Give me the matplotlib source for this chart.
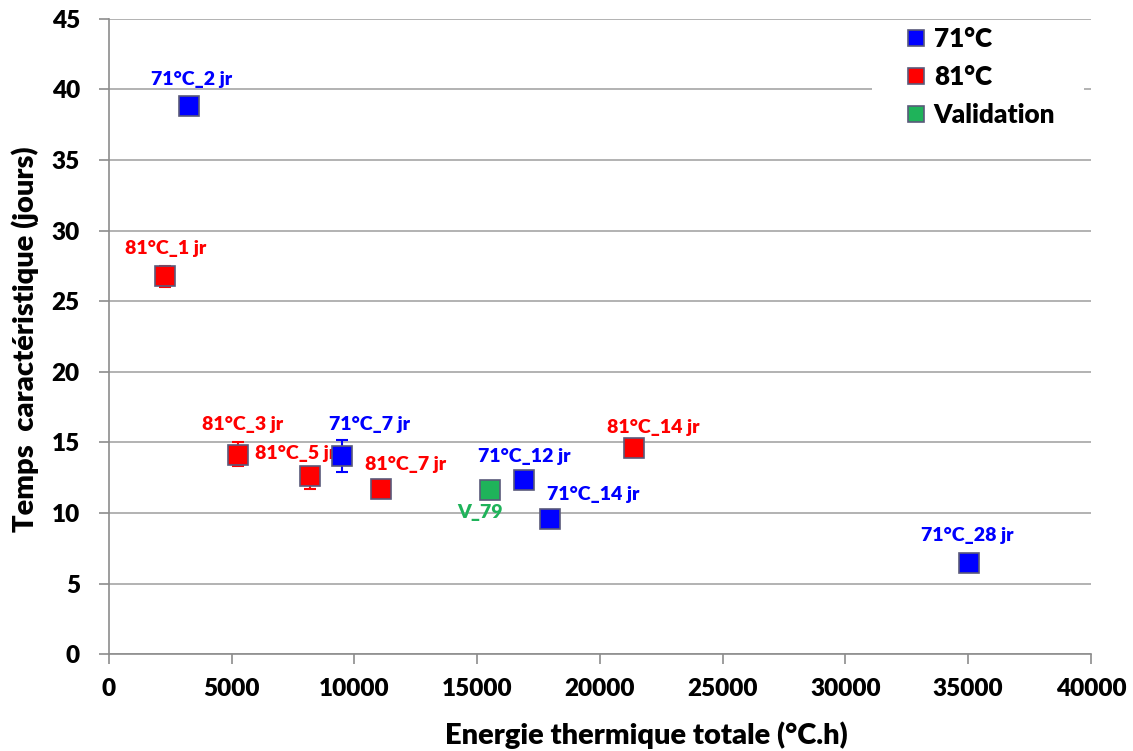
import matplotlib.pyplot as plt
from matplotlib.patches import Rectangle

plt.rcParams['font.family'] = ['Lato', 'DejaVu Sans']
plt.rcParams['font.weight'] = 'heavy'

# series 71°C
x71 = [3250, 9500, 16900, 17950, 35050]
y71 = [38.8, 14.0, 12.3, 9.6, 6.45]
err71_lo = [0, 1.1, 0, 0, 0]
err71_hi = [0, 1.2, 0, 0, 0]
lab71 = ["71°C_2 jr", "71°C_7 jr", "71°C_12 jr", "71°C_14 jr", "71°C_28 jr"]

# series 81°C
x81 = [2300, 5250, 8200, 11100, 21400]
y81 = [26.8, 14.1, 12.6, 11.7, 14.6]
err81_lo = [0.8, 0.8, 0.9, 0, 0]
err81_hi = [0.7, 0.9, 0, 0, 0]
lab81 = ["81°C_1 jr", "81°C_3 jr", "81°C_5 jr", "81°C_7 jr", "81°C_14 jr"]

# validation
xval = [15500]
yval = [11.6]
labval = ["V_79"]

# label offsets in points
off71 = [(2, 19.5), (19.5, 23), (0, 17.3), (31.7, 17.3), (-1.5, 19.5)]
off81 = [(0, 19.5), (3.6, 22.3), (-10.8, 16.6), (17.3, 17.3), (13.7, 15.1)]
offval = [(-6.5, -15.8)]

blue = '#0000ff'
red = '#ff0000'
green = '#1fb35a'
edge = '#5a5a7a'

fig = plt.figure(figsize=(11.33, 7.51), dpi=100)
ax = fig.add_axes([0.0962, 0.129, 0.8667, 0.846])

for xs, ys, lo, hi, c, name in [
    (x71, y71, err71_lo, err71_hi, blue, '71°C'),
    (x81, y81, err81_lo, err81_hi, red, '81°C'),
]:
    ax.errorbar(xs, ys, yerr=[lo, hi], fmt='none', ecolor=c, elinewidth=1.5,
                capsize=4, capthick=1.5, zorder=3)
    ax.plot(xs, ys, 's', ms=14, mfc=c, mec=edge, mew=1.2, label=name, zorder=4)
ax.plot(xval, yval, 's', ms=14, mfc=green, mec=edge, mew=1.2, label='Validation', zorder=4)

for xs, ys, labs, offs, c in [
    (x71, y71, lab71, off71, blue),
    (x81, y81, lab81, off81, red),
    (xval, yval, labval, offval, green),
]:
    for x, y, t, (dx, dy) in zip(xs, ys, labs, offs):
        ax.annotate(t, (x, y), xytext=(dx, dy), textcoords='offset points',
                    ha='center', va='center', color=c, fontsize=14, fontweight='heavy')

ax.set_xlim(0, 40000)
ax.set_ylim(0, 45)
ax.set_xticks(range(0, 40001, 5000))
ax.set_yticks(range(0, 46, 5))
ax.grid(axis='y', color='#a6a6a6', lw=1.2)
ax.set_axisbelow(True)
for s in ['top', 'right']:
    ax.spines[s].set_visible(False)
for s in ['left', 'bottom']:
    ax.spines[s].set_color('#8c8c8c')
    ax.spines[s].set_linewidth(1.2)
ax.tick_params(axis='both', direction='out', length=7, width=1.2, color='#8c8c8c',
               labelsize=17.5)
ax.tick_params(axis='y', pad=14)
ax.tick_params(axis='x', pad=10)
for lab in ax.get_xticklabels() + ax.get_yticklabels():
    lab.set_fontweight('heavy')

ax.set_xlabel('Energie thermique totale (°C.h)', fontsize=21, fontweight='heavy', va='center')
ax.xaxis.set_label_coords(0.547, -0.1276)
ax.set_ylabel('Temps  caractéristique (jours)', fontsize=21, fontweight='heavy', va='center')
ax.yaxis.set_label_coords(-0.0855, 0.496)

# white legend box hiding the gridline behind it
ax.add_patch(Rectangle((0.777, 0.81), 0.216, 0.175, transform=ax.transAxes,
                       fc='white', ec='none', zorder=2))
leg = ax.legend(loc='upper right', bbox_to_anchor=(0.969, 0.995), frameon=False,
                fontsize=18.8, handlelength=0.7, handletextpad=0.35, labelspacing=0.54,
                markerscale=0.85, borderpad=0.2, borderaxespad=0)
for t in leg.get_texts():
    t.set_fontweight('heavy')

fig.savefig('out.png', dpi=100)
